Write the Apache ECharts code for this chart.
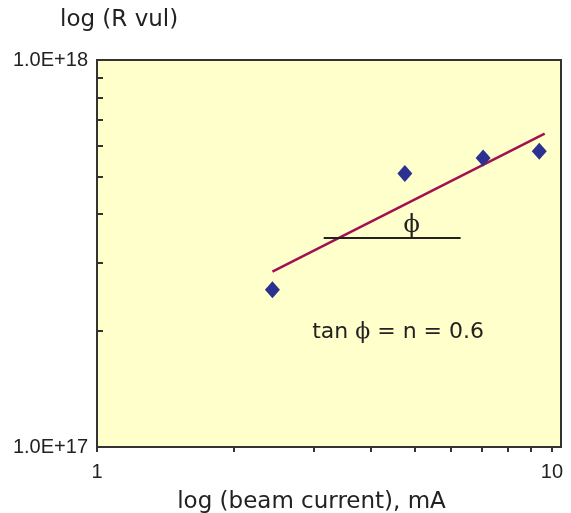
<!DOCTYPE html>
<html>
<head>
<meta charset="utf-8">
<script src="https://cdn.jsdelivr.net/npm/echarts@6/dist/echarts.min.js"></script>
<style>
  html, body { margin: 0; padding: 0; background: #ffffff; }
  #chart { width: 571px; height: 513px; }
</style>
</head>
<body>
<div id="chart"></div>
<script>
// Measured points: beam current (mA) vs R vul
const beamCurrent = [2.43, 4.75, 7.06, 9.38];
const rVul = [2.55e17, 5.09e17, 5.58e17, 5.81e17];

// Power-law fit, slope n = 0.6 on log-log axes
const fitCurrent = [2.43, 9.64];
const fitRVul = [2.84e17, 6.45e17];

// Horizontal reference for the angle phi
const refCurrent = [3.15, 6.30];
const refRVul = [3.47e17, 3.47e17];

// Axis ticks and labels
const xTickValues = [1, 2, 3, 4, 5, 6, 7, 8, 9, 10];
const xLabelValues = [1, 10];
const yTickValues = [1e17, 2e17, 3e17, 4e17, 5e17, 6e17, 7e17, 8e17, 9e17, 1e18];
const yLabelValues = [1e17, 1e18];
const yLabelText = ['1.0E+17', '1.0E+18'];

// Annotation anchors (data coordinates)
const phiAnchor = [4.92, 3.72e17];
const slopeAnchor = [4.59, 1.98e17];
const slopeN = '0.6';

const pairs = (xs, ys) => xs.map((x, i) => [x, ys[i]]);
const findLabel = (list, v) => list.findIndex(t => Math.abs(t - v) / t < 1e-6);

const axisColor = '#333333';
const textColor = '#222222';

const chart = echarts.init(document.getElementById('chart'), null, { renderer: 'canvas' });

chart.setOption({
  animation: false,
  title: {
    text: 'log (R vul)',
    left: 60,
    top: 9,
    padding: 0,
    textStyle: {
      fontFamily: 'DejaVu Sans',
      fontSize: 23,
      fontWeight: 'normal',
      color: textColor
    }
  },
  grid: {
    left: 97,
    right: 10,
    top: 60,
    bottom: 66,
    containLabel: false,
    outerBoundsMode: 'none',
    show: true,
    backgroundColor: '#FFFFCC',
    borderColor: axisColor,
    borderWidth: 2
  },
  xAxis: {
    type: 'log',
    logBase: 10,
    min: 1,
    max: 10.47,
    name: 'log (beam current), mA',
    nameLocation: 'middle',
    nameGap: 44,
    nameTextStyle: {
      fontFamily: 'DejaVu Sans',
      fontSize: 23,
      color: textColor,
      padding: [0, 35, 0, 0]
    },
    axisLine: { show: true, lineStyle: { color: axisColor, width: 2 } },
    axisTick: {
      show: true,
      inside: false,
      length: 5,
      customValues: xTickValues,
      lineStyle: { color: axisColor, width: 2 }
    },
    axisLabel: {
      showMinLabel: true,
      showMaxLabel: true,
      hideOverlap: false,
      fontFamily: 'Liberation Sans',
      fontSize: 20,
      color: textColor,
      margin: 15,
      formatter: function (v) {
        const i = findLabel(xLabelValues, v);
        return i >= 0 ? String(xLabelValues[i]) : '';
      }
    },
    splitLine: { show: false },
    minorTick: { show: false }
  },
  yAxis: {
    type: 'log',
    logBase: 10,
    min: 1e17,
    max: 1e18,
    axisLine: { show: true, lineStyle: { color: axisColor, width: 2 } },
    axisTick: {
      show: true,
      inside: true,
      length: 6,
      customValues: yTickValues,
      lineStyle: { color: axisColor, width: 2 }
    },
    axisLabel: {
      showMinLabel: true,
      showMaxLabel: true,
      hideOverlap: false,
      fontFamily: 'Liberation Sans',
      fontSize: 20,
      color: textColor,
      margin: 9,
      formatter: function (v) {
        const i = findLabel(yLabelValues, v);
        return i >= 0 ? yLabelText[i] : '';
      }
    },
    splitLine: { show: false },
    minorTick: { show: false }
  },
  series: [
    {
      name: 'fit',
      type: 'line',
      data: pairs(fitCurrent, fitRVul),
      showSymbol: false,
      silent: true,
      lineStyle: { color: '#A3104F', width: 2.5 },
      z: 2
    },
    {
      name: 'reference',
      type: 'line',
      data: pairs(refCurrent, refRVul),
      showSymbol: false,
      silent: true,
      lineStyle: { color: '#222222', width: 2 },
      z: 2
    },
    {
      name: 'R vul',
      type: 'scatter',
      data: pairs(beamCurrent, rVul),
      symbol: 'diamond',
      symbolSize: [15, 17],
      itemStyle: { color: '#2B3191', opacity: 1 },
      z: 3
    },
    {
      name: 'phi',
      type: 'scatter',
      data: [phiAnchor],
      symbolSize: 0,
      silent: true,
      itemStyle: { opacity: 1 },
      label: {
        show: true,
        position: 'inside',
        formatter: 'ϕ',
        fontFamily: 'DejaVu Serif',
        fontSize: 24,
        color: textColor
      },
      z: 4
    },
    {
      name: 'slope',
      type: 'scatter',
      data: [slopeAnchor],
      symbolSize: 0,
      silent: true,
      itemStyle: { opacity: 1 },
      label: {
        show: true,
        position: 'inside',
        formatter: '{s|tan }{p|ϕ}{s| = n = ' + slopeN + '}',
        rich: {
          s: { fontFamily: 'DejaVu Sans', fontSize: 22, color: textColor },
          p: { fontFamily: 'DejaVu Serif', fontSize: 22, color: textColor }
        }
      },
      z: 4
    }
  ]
});
</script>
</body>
</html>
